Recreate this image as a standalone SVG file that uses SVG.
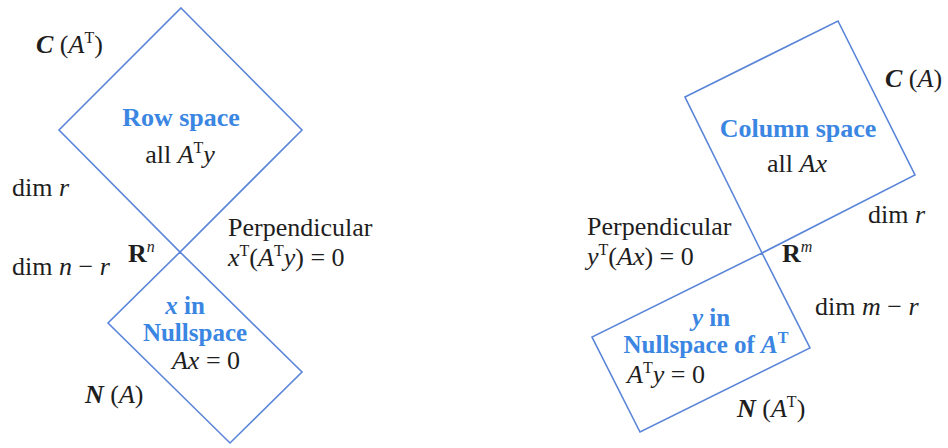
<svg xmlns="http://www.w3.org/2000/svg" width="948" height="448" viewBox="0 0 948 448">
<style>
.box{fill:none;stroke:#5a85d8;stroke-width:1.6;stroke-linejoin:miter}
text{font-family:Liberation Serif,serif;font-size:26px;fill:#1e1e1e}
.blue{fill:#3a86e2;font-weight:bold}
.b{font-weight:bold}
.i{font-style:italic}
.sup{font-size:16px}
.m{text-anchor:middle}
.s{font-size:25px}
</style>
<rect width="948" height="448" fill="#ffffff"/>
<g id="row-space">
<polygon class="box" points="181,8 302,130 180,252 59,130"/>
<text class="blue m" x="181" y="126">Row space</text>
<text class="m" x="180" y="163">all <tspan class="i">A</tspan><tspan class="sup" dy="-10">T</tspan><tspan class="i" dy="10">y</tspan></text>
</g>
<g id="nullspace">
<polygon class="box" points="180,252 302,372 230,443 108,323"/>
<text class="blue m s" x="185" y="314"><tspan class="i">x</tspan> in</text>
<text class="blue m s" x="195" y="341">Nullspace</text>
<text class="m" x="206" y="369"><tspan class="i">Ax</tspan> = 0</text>
</g>
<g id="column-space">
<polygon class="box" points="685,97 838,21 915,175 762,253"/>
<text class="blue m" x="798" y="137">Column space</text>
<text class="m" x="797" y="172">all <tspan class="i">Ax</tspan></text>
</g>
<g id="left-nullspace">
<polygon class="box" points="762,253 810,348 640,432 592,337"/>
<text class="blue m s" x="711" y="326"><tspan class="i">y</tspan> in</text>
<text class="blue m s" x="706" y="353">Nullspace of <tspan class="i">A</tspan><tspan class="sup" dy="-10">T</tspan></text>
<text x="627" y="383"><tspan class="i">A</tspan><tspan class="sup" dy="-10">T</tspan><tspan class="i" dy="10">y</tspan> = 0</text>
</g>
<g id="labels">
<text x="36" y="53"><tspan class="b i">C</tspan> (<tspan class="i">A</tspan><tspan class="sup" dy="-10">T</tspan><tspan dy="10">)</tspan></text>
<text x="12" y="196">dim <tspan class="i">r</tspan></text>
<text x="12" y="275">dim <tspan class="i">n</tspan> − <tspan class="i">r</tspan></text>
<text x="128" y="262"><tspan class="b">R</tspan><tspan class="sup i" dy="-10">n</tspan></text>
<text x="228" y="236">Perpendicular</text>
<text x="228" y="266"><tspan class="i">x</tspan><tspan class="sup" dy="-10">T</tspan><tspan dy="10">(</tspan><tspan class="i">A</tspan><tspan class="sup" dy="-10">T</tspan><tspan class="i" dy="10">y</tspan>) = 0</text>
<text x="85" y="403"><tspan class="b i">N</tspan> (<tspan class="i">A</tspan>)</text>
<text x="885" y="87"><tspan class="b i">C</tspan> (<tspan class="i">A</tspan>)</text>
<text x="868" y="223">dim <tspan class="i">r</tspan></text>
<text x="587" y="235">Perpendicular</text>
<text x="587" y="265"><tspan class="i">y</tspan><tspan class="sup" dy="-10">T</tspan><tspan dy="10">(</tspan><tspan class="i">Ax</tspan>) = 0</text>
<text x="782" y="262"><tspan class="b">R</tspan><tspan class="sup i" dy="-10">m</tspan></text>
<text x="815" y="315">dim <tspan class="i">m</tspan> − <tspan class="i">r</tspan></text>
<text x="737" y="417"><tspan class="b i">N</tspan> (<tspan class="i">A</tspan><tspan class="sup" dy="-10">T</tspan><tspan dy="10">)</tspan></text>
</g>
</svg>
